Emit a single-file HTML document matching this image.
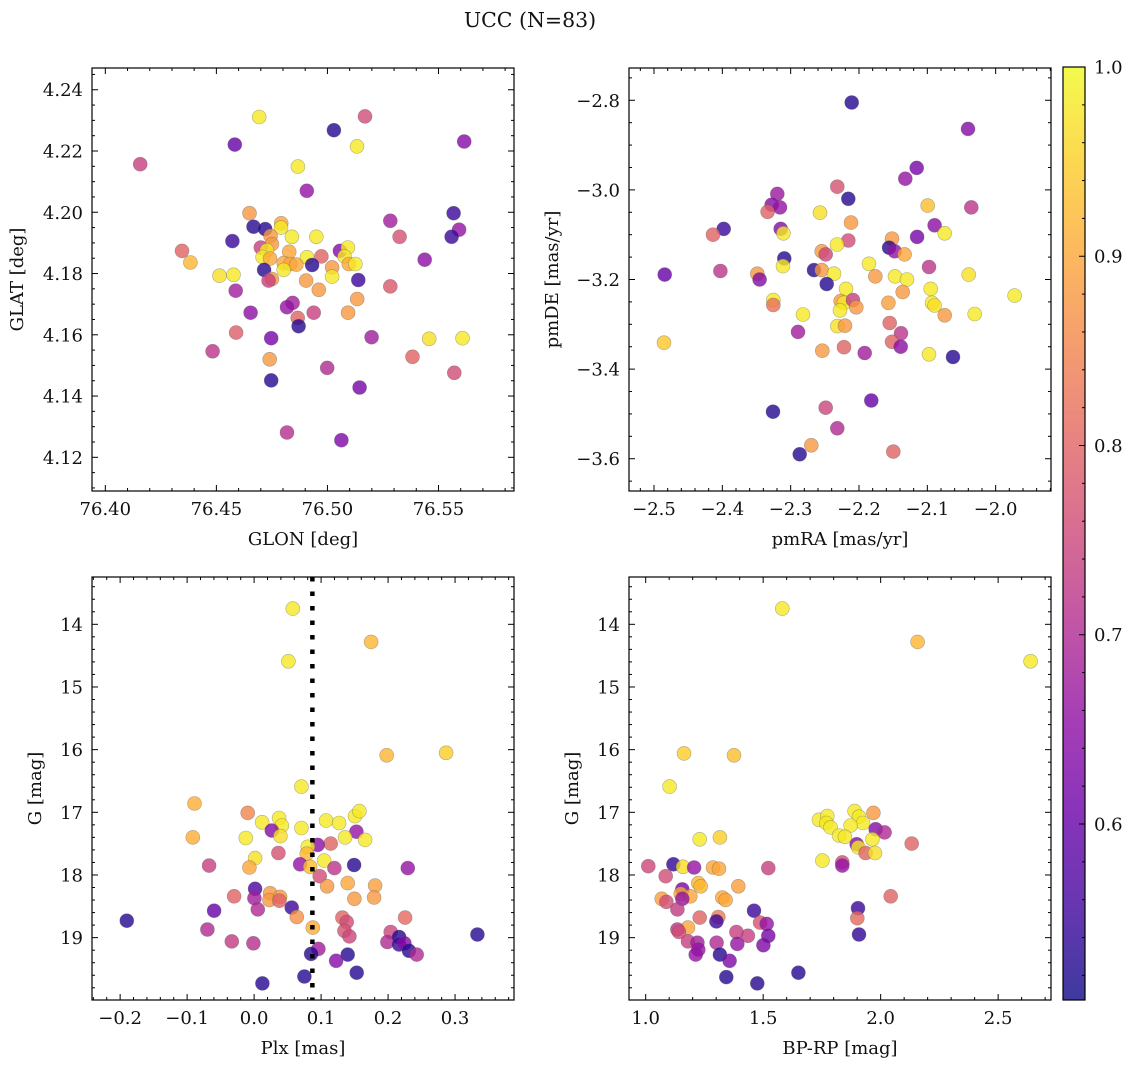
<!DOCTYPE html>
<html><head><meta charset="utf-8"><style>
html,body{margin:0;padding:0;background:#fff;}
svg{display:block;font-family:"DejaVu Serif","Liberation Serif",serif;}
</style></head><body>
<svg id="fig" width="1135" height="1067" viewBox="0 0 1135 1067">
<text x="530" y="27" text-anchor="middle" font-size="20.5" fill="#111">UCC (N=83)</text>
</svg>
<script>
// ---------- data (membership probability per star, per panel) ----------
const glon=[76.4157,76.4583,76.4693,76.5029,76.5169,76.5133,76.5616,76.4867,76.4907,76.4649,76.4667,76.4720,76.4792,76.4791,76.4572,76.4345,76.4383,76.4744,76.4750,76.4700,76.4727,76.4708,76.4742,76.4840,76.4950,76.4828,76.4908,76.4973,76.5056,76.5092,76.5077,76.5096,76.5126,76.5021,76.5021,76.4931,76.4715,76.4803,76.4833,76.4860,76.4803,76.4750,76.4735,76.4514,76.4577,76.4587,76.4904,76.4961,76.5139,76.5134,76.5093,76.5283,76.5325,76.5438,76.5568,76.5593,76.5559,76.5283,76.4654,76.4843,76.4818,76.4938,76.4866,76.4870,76.4589,76.4747,76.4483,76.4740,76.4747,76.5199,76.5458,76.5608,76.5383,76.5571,76.4999,76.5145,76.4818,76.5063];
const glat=[4.2157,4.2221,4.2311,4.2268,4.2313,4.2215,4.2231,4.2149,4.2070,4.1997,4.1953,4.1945,4.1964,4.1950,4.1906,4.1874,4.1836,4.1923,4.1896,4.1885,4.1876,4.1854,4.1849,4.1920,4.1920,4.1871,4.1853,4.1856,4.1874,4.1885,4.1856,4.1831,4.1831,4.1820,4.1790,4.1828,4.1812,4.1834,4.1831,4.1829,4.1812,4.1782,4.1777,4.1793,4.1796,4.1744,4.1777,4.1747,4.1779,4.1717,4.1672,4.1972,4.1920,4.1845,4.1997,4.1943,4.1920,4.1758,4.1672,4.1704,4.1690,4.1672,4.1655,4.1628,4.1607,4.1589,4.1546,4.1520,4.1451,4.1592,4.1587,4.1589,4.1528,4.1476,4.1492,4.1428,4.1281,4.1256];
const prob1=[0.74,0.60,0.98,0.53,0.76,0.98,0.64,0.98,0.66,0.88,0.53,0.53,0.90,0.98,0.55,0.80,0.92,0.88,0.88,0.74,0.98,0.98,0.90,0.98,0.98,0.90,0.98,0.80,0.64,0.98,0.98,0.90,0.98,0.88,0.98,0.53,0.53,0.90,0.90,0.90,0.98,0.88,0.74,0.97,0.98,0.68,0.88,0.88,0.55,0.88,0.88,0.68,0.77,0.65,0.55,0.66,0.55,0.78,0.65,0.68,0.66,0.74,0.80,0.53,0.79,0.62,0.72,0.88,0.53,0.68,0.97,0.98,0.80,0.76,0.70,0.62,0.71,0.63];
const pmra=[-2.2107,-2.0405,-2.1156,-2.1322,-2.2317,-2.2156,-2.3195,-2.3278,-2.3156,-2.3337,-2.2571,-2.0995,-2.0356,-2.2117,-2.398,-2.4137,-2.3146,-2.3107,-2.0893,-2.0746,-2.115,-2.2156,-2.2322,-2.1517,-2.156,-2.1478,-2.1332,-2.2546,-2.2488,-2.3093,-2.3112,-2.1854,-2.2659,-2.2546,-2.2366,-2.1761,-2.1473,-2.1298,-2.0976,-2.0395,-2.4844,-2.4029,-2.3488,-2.3454,-2.2473,-2.219,-2.1361,-2.0951,-1.9722,-2.3254,-2.3254,-2.2268,-2.222,-2.2088,-2.2039,-2.2278,-2.157,-2.0932,-2.0893,-2.0746,-2.0307,-2.282,-2.2317,-2.2205,-2.2893,-2.1551,-2.1385,-2.1517,-2.139,-2.222,-2.2537,-2.1917,-2.0976,-2.0624,-2.4854,-2.182,-2.3259,-2.2488,-2.2317,-2.2698,-2.2868,-2.1498];
const pmde=[-2.805,-2.864,-2.951,-2.975,-2.993,-3.020,-3.009,-3.033,-3.039,-3.049,-3.051,-3.035,-3.039,-3.073,-3.087,-3.100,-3.087,-3.097,-3.079,-3.097,-3.105,-3.113,-3.122,-3.109,-3.129,-3.137,-3.144,-3.137,-3.144,-3.153,-3.170,-3.165,-3.179,-3.179,-3.187,-3.193,-3.193,-3.200,-3.172,-3.189,-3.189,-3.181,-3.187,-3.200,-3.210,-3.221,-3.228,-3.221,-3.236,-3.246,-3.257,-3.248,-3.252,-3.246,-3.262,-3.269,-3.252,-3.252,-3.258,-3.280,-3.277,-3.278,-3.304,-3.303,-3.317,-3.297,-3.320,-3.339,-3.350,-3.351,-3.359,-3.364,-3.367,-3.373,-3.341,-3.470,-3.495,-3.486,-3.532,-3.570,-3.590,-3.584];
const prob2=[0.53,0.64,0.62,0.66,0.77,0.53,0.67,0.64,0.66,0.80,0.97,0.93,0.72,0.88,0.55,0.80,0.64,0.98,0.65,0.98,0.62,0.76,0.98,0.88,0.53,0.66,0.90,0.88,0.75,0.53,0.98,0.98,0.53,0.88,0.98,0.88,0.98,0.98,0.72,0.97,0.60,0.72,0.88,0.64,0.53,0.98,0.88,0.98,0.98,0.98,0.82,0.88,0.98,0.74,0.88,0.98,0.89,0.98,0.97,0.88,0.98,0.98,0.97,0.88,0.68,0.80,0.72,0.80,0.65,0.80,0.88,0.68,0.98,0.53,0.94,0.60,0.53,0.75,0.70,0.88,0.53,0.80];
const plx=[0.0577,0.1746,0.0512,0.198,0.2866,0.0706,-0.089,-0.0915,-0.0095,0.0119,0.0373,0.0413,0.0264,0.0393,-0.0124,0.0706,0.1075,0.1269,0.1507,0.1572,0.1527,0.1358,0.1657,0.1144,0.095,0.0801,0.0786,0.0363,0.0015,-0.007,-0.0672,0.0687,0.0836,0.1045,0.1199,0.1493,0.2294,0.098,0.109,0.1398,0.1806,0.1791,0.1498,0.0015,0.0005,-0.0299,0.0055,0.0239,0.0229,0.0388,0.0378,0.0562,0.0637,-0.0597,-0.19,-0.0697,-0.0333,-0.001,0.0876,0.1318,0.1383,0.1348,0.1423,0.2254,0.204,0.199,0.2164,0.2164,0.2244,0.2313,0.2428,0.3333,0.096,0.0851,0.1398,0.1224,0.1532,0.0751,0.0124];
const gmag3=[13.75,14.28,14.59,16.09,16.05,16.59,16.86,17.40,17.01,17.16,17.09,17.21,17.29,17.38,17.41,17.25,17.13,17.17,17.06,16.98,17.31,17.40,17.44,17.50,17.52,17.55,17.66,17.65,17.73,17.88,17.85,17.83,17.87,17.77,17.89,17.84,17.89,18.02,18.18,18.13,18.17,18.36,18.38,18.22,18.37,18.34,18.55,18.29,18.40,18.35,18.41,18.52,18.67,18.57,18.73,18.87,19.06,19.09,18.84,18.68,18.75,18.89,18.98,18.68,18.91,19.07,18.99,19.11,19.09,19.21,19.27,18.95,19.18,19.26,19.27,19.37,19.56,19.62,19.73];
const prob3=[0.98,0.92,0.98,0.92,0.95,0.98,0.91,0.91,0.85,0.98,0.98,0.98,0.64,0.97,0.98,0.98,0.98,0.98,0.98,0.98,0.66,0.98,0.98,0.80,0.65,0.98,0.92,0.77,0.97,0.90,0.74,0.66,0.93,0.98,0.72,0.53,0.66,0.76,0.88,0.90,0.89,0.88,0.88,0.57,0.68,0.80,0.70,0.88,0.88,0.88,0.80,0.55,0.87,0.60,0.53,0.70,0.73,0.71,0.91,0.80,0.76,0.77,0.75,0.81,0.75,0.70,0.53,0.55,0.64,0.53,0.70,0.53,0.68,0.53,0.53,0.64,0.53,0.53,0.53];
const bprp=[1.5816,2.1574,2.6383,1.163,1.3759,1.102,1.7376,1.773,1.7688,1.787,1.889,1.908,1.925,1.872,1.969,1.823,1.848,1.979,2.017,1.965,1.898,1.905,1.936,1.976,2.132,1.752,1.837,1.837,2.0426,1.9035,1.9007,1.9078,1.011,1.118,1.159,1.206,1.23,1.316,1.2865,1.312,1.085,1.224,1.234,1.156,1.149,1.19,1.156,1.068,1.088,1.326,1.34,1.394,1.522,1.135,1.23,1.309,1.301,1.461,1.487,1.515,1.522,1.501,1.435,1.386,1.39,1.302,1.18,1.135,1.142,1.18,1.22,1.224,1.213,1.316,1.357,1.343,1.475,1.65];
const gmag4=[13.75,14.28,14.59,16.06,16.09,16.59,17.12,17.06,17.17,17.24,16.98,17.07,17.17,17.21,17.01,17.37,17.39,17.27,17.32,17.43,17.51,17.56,17.65,17.65,17.50,17.77,17.80,17.85,18.34,18.53,18.69,18.95,17.86,17.83,17.87,17.88,17.43,17.40,17.88,17.90,18.02,18.13,18.18,18.23,18.30,18.34,18.38,18.38,18.43,18.36,18.40,18.18,17.89,18.55,18.68,18.67,18.74,18.57,18.76,18.78,18.97,19.12,18.97,18.91,19.10,19.08,18.84,18.87,18.91,19.06,19.08,19.19,19.27,19.27,19.37,19.63,19.73,19.56];
const prob4=[0.98,0.92,0.98,0.95,0.93,0.98,0.98,0.98,0.98,0.98,0.98,0.98,0.98,0.98,0.88,0.98,0.98,0.64,0.70,0.98,0.64,0.98,0.80,0.97,0.80,0.98,0.76,0.66,0.80,0.55,0.81,0.54,0.75,0.54,0.97,0.66,0.98,0.95,0.90,0.90,0.76,0.92,0.92,0.62,0.90,0.90,0.66,0.89,0.76,0.90,0.90,0.89,0.74,0.73,0.80,0.84,0.55,0.55,0.77,0.66,0.62,0.63,0.74,0.74,0.66,0.70,0.90,0.72,0.76,0.74,0.68,0.66,0.66,0.53,0.63,0.53,0.53,0.53];
const plxRef=[0.087];
const ticks1x=[76.40,76.45,76.50,76.55], ticks1y=[4.12,4.14,4.16,4.18,4.20,4.22,4.24];
const ticks2x=[-2.5,-2.4,-2.3,-2.2,-2.1,-2.0], ticks2y=[-3.6,-3.4,-3.2,-3.0,-2.8];
const ticks3x=[-0.2,-0.1,0.0,0.1,0.2,0.3], ticksG=[14,15,16,17,18,19];
const ticks4x=[1.0,1.5,2.0,2.5];
const cbTicks=[0.6,0.7,0.8,0.9,1.0];
const VMIN=0.507, VMAX=1.0;

// ---------- helpers ----------
const NS="http://www.w3.org/2000/svg";
const svg=document.getElementById('fig');
const FS=18;
function mk(tag,attrs,parent){const e=document.createElementNS(NS,tag);for(const k in attrs)e.setAttribute(k,attrs[k]);(parent||svg).appendChild(e);return e;}
const stops=[[13,8,135],[65,4,157],[106,0,168],[143,13,164],[177,42,144],[204,71,120],[225,100,98],[242,132,75],[252,166,54],[252,206,37],[240,249,33]];
function plasma(t){t=Math.max(0,Math.min(1,t));const s=t*10,i=Math.min(9,Math.floor(s)),f=s-i;const a=stops[i],b=stops[i+1];return 'rgb('+a.map((v,k)=>Math.round(v+(b[k]-v)*f)).join(',')+')';}
function cmap(p){return plasma((p-VMIN)/(VMAX-VMIN));}
function fmt(v,d){return (v<0?'\u2212':'')+Math.abs(v).toFixed(d);}

function panel(cfg){
  const {name,L,T,W,H,x0,x1,y0,y1,xs,ys,ps,xt,yt,xd,yd,xminor,yminor,xlabel,ylabel}=cfg;
  const X=v=>L+(v-x0)/(x1-x0)*W;
  const Y=v=>T+(v-y0)/(y1-y0)*H;
  const g=mk('g',{});
  
  
  const pg=mk('g',{},g);
  
  
  for(let i=0;i<xs.length;i++){
    const c=mk('circle',{cx:X(xs[i]).toFixed(1),cy:Y(ys[i]).toFixed(1),r:7,fill:cmap(ps[i]),'fill-opacity':0.8,stroke:'#555','stroke-opacity':0.45,'stroke-width':0.6},pg);
    
    
  }
  if(cfg.extra)cfg.extra(g,X,Y);
  const fr=mk('rect',{x:L,y:T,width:W,height:H,fill:'none',stroke:'#000','stroke-width':1.2},g);
  
  
  const tk=mk('g',{stroke:'#000','stroke-width':1},g);
  const lo=Math.min(x0,x1),hi=Math.max(x0,x1);
  for(let v=Math.ceil(lo/xminor-1e-6)*xminor;v<=hi+1e-9;v+=xminor){
    const px=X(v);const maj=xt.some(t=>Math.abs(t-v)<xminor/4);const len=maj?6:3;
    mk('line',{x1:px,y1:T+H,x2:px,y2:T+H-len},tk);mk('line',{x1:px,y1:T,x2:px,y2:T+len},tk);
  }
  const ylo=Math.min(y0,y1),yhi=Math.max(y0,y1);
  for(let v=Math.ceil(ylo/yminor-1e-6)*yminor;v<=yhi+1e-9;v+=yminor){
    const py=Y(v);const maj=yt.some(t=>Math.abs(t-v)<yminor/4);const len=maj?6:3;
    mk('line',{x1:L,y1:py,x2:L+len,y2:py},tk);mk('line',{x1:L+W,y1:py,x2:L+W-len,y2:py},tk);
  }
  xt.forEach(v=>{const t=mk('text',{x:X(v),y:T+H+24,'text-anchor':'middle','font-size':FS,fill:'#111'},g);t.textContent=fmt(v,xd);});
  yt.forEach(v=>{const t=mk('text',{x:L-9,y:Y(v)+6.5,'text-anchor':'end','font-size':FS,fill:'#111'},g);t.textContent=fmt(v,yd);});
  const xl=mk('text',{x:L+W/2,y:T+H+54,'text-anchor':'middle','font-size':FS,fill:'#111'},g);xl.textContent=xlabel;
  
  const ylx=cfg.ylx;
  const yl=mk('text',{x:ylx,y:T+H/2,'text-anchor':'middle','font-size':FS,fill:'#111',transform:'rotate(-90 '+ylx+' '+(T+H/2)+')'},g);yl.textContent=ylabel;
  
}

panel({name:'glon-glat-panel',L:92,T:68,W:422,H:423,x0:76.394,x1:76.584,y0:4.2471,y1:4.109,xs:glon,ys:glat,ps:prob1,xt:ticks1x,yt:ticks1y,xd:2,yd:2,xminor:0.01,yminor:0.005,xlabel:'GLON [deg]',ylabel:'GLAT [deg]',ylx:23});
panel({name:'pm-panel',L:629,T:68,W:422,H:423,x0:-2.5366,x1:-1.919,y0:-2.728,y1:-3.672,xs:pmra,ys:pmde,ps:prob2,xt:ticks2x,yt:ticks2y,xd:1,yd:1,xminor:0.02,yminor:0.05,xlabel:'pmRA [mas/yr]',ylabel:'pmDE [mas/yr]',ylx:558});
panel({name:'plx-g-panel',L:92,T:577,W:422,H:423,x0:-0.242,x1:0.388,y0:13.245,y1:19.995,xs:plx,ys:gmag3,ps:prob3,xt:ticks3x,yt:ticksG,xd:1,yd:0,xminor:0.02,yminor:0.2,xlabel:'Plx [mas]',ylabel:'G [mag]',ylx:41,
  extra:(g,X,Y)=>{plxRef.forEach(v=>{const l=mk('line',{x1:X(v),y1:577,x2:X(v),y2:1000,stroke:'#000','stroke-width':4.5,'stroke-dasharray':'4.5 10'},g);});}});
panel({name:'cmd-panel',L:629,T:577,W:422,H:423,x0:0.929,x1:2.725,y0:13.245,y1:19.995,xs:bprp,ys:gmag4,ps:prob4,xt:ticks4x,yt:ticksG,xd:1,yd:0,xminor:0.1,yminor:0.2,xlabel:'BP-RP [mag]',ylabel:'G [mag]',ylx:578});

(function(){
  const L=1063,T=67,W=22,H=933;
  const cb=mk('g',{});
  
  
  const defs=mk('defs',{},cb);
  const lg=mk('linearGradient',{id:'cbg',x1:0,y1:1,x2:0,y2:0},defs);
  for(let i=0;i<=20;i++){mk('stop',{offset:(i/20),'stop-color':plasma(i/20),'stop-opacity':0.8},lg);}
  mk('rect',{x:L,y:T,width:W,height:H,fill:'url(#cbg)',stroke:'#000','stroke-width':1.2},cb);
  const Yc=v=>T+H-(v-VMIN)/(VMAX-VMIN)*H;
  for(let v=0.52;v<=1.0001;v+=0.02){const py=Yc(v);const maj=cbTicks.some(t=>Math.abs(t-v)<0.005);mk('line',{x1:L+W,y1:py,x2:L+W-(maj?6:3),y2:py,stroke:'#000','stroke-width':1},cb);}
  cbTicks.forEach(v=>{const t=mk('text',{x:L+W+9,y:Yc(v)+6.5,'font-size':FS,fill:'#111'},cb);t.textContent=v.toFixed(1);});
})();
</script>
</body></html>
